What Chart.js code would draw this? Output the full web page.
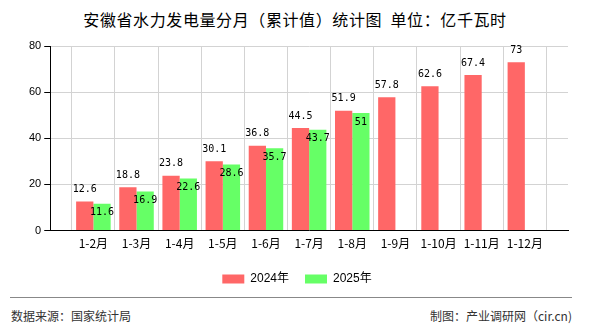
<!DOCTYPE html>
<html>
<head>
<meta charset="utf-8">
<script src="https://cdn.jsdelivr.net/npm/chart.js@4/dist/chart.umd.min.js"></script>
<style>
  body { margin: 0; background: #fff; font-family: "Noto Sans CJK SC", sans-serif; }
  #wrap { position: relative; width: 590px; height: 330px; overflow: hidden; }
  #title { position: absolute; top: 7px; left: 0; width: 590px; text-align: center; font-size: 16px; letter-spacing: 0.6px; color: #000; white-space: pre; }
  #box { position: absolute; top: 0; left: 0; width: 590px; height: 295px; }
  #line { position: absolute; top: 297px; left: 10px; width: 562px; border-top: 1px solid #888; }
  .foot { position: absolute; top: 307px; font-size: 12px; color: #333; }
</style>
</head>
<body>
<div id="wrap">
  <div id="title">安徽省水力发电量分月（累计值）统计图  单位：亿千瓦时</div>
  <div id="box"><canvas id="myChart"></canvas></div>
  <div id="line"></div>
  <div class="foot" style="left:11px">数据来源：国家统计局</div>
  <div class="foot" style="right:18px">制图：产业调研网（cir.cn)</div>
</div>

<script>
// months (cumulative)
let months = ['1-2月', '1-3月', '1-4月', '1-5月', '1-6月', '1-7月', '1-8月', '1-9月', '1-10月', '1-11月', '1-12月'];
let values2024 = [12.6, 18.8, 23.8, 30.1, 36.8, 44.5, 51.9, 57.8, 62.6, 67.4, 73];
let values2025 = [11.6, 16.9, 22.6, 28.6, 35.7, 43.7, 51, null, null, null, null];
let yTicks = [0, 20, 40, 60, 80];

// empty slot at each end so the axis edges sit half a step outside the bars
let labels = [''].concat(months, ['']);
let pad = function(arr) { return [null].concat(arr, [null]); };

// value labels above red bars, just inside green bars
const valueLabels = {
  id: 'valueLabels',
  afterDatasetsDraw(chart) {
    const ctx = chart.ctx;
    ctx.save();
    ctx.font = '10px "DejaVu Sans Mono"';
    ctx.fillStyle = '#000';
    ctx.textAlign = 'center';
    ctx.textBaseline = 'middle';
    chart.data.datasets.forEach(function(ds, i) {
      let meta = chart.getDatasetMeta(i);
      meta.data.forEach(function(bar, j) {
        let v = ds.data[j];
        if (v === null || v === undefined) return;
        let dy = i === 0 ? -12 : 9;
        ctx.fillText(String(v), bar.x, bar.y + dy);
      });
    });
    ctx.restore();
  }
};

const ctx = document.getElementById('myChart');

new Chart(ctx, {
  type: 'bar',
  data: {
    labels: labels,
    datasets: [
      { label: '2024年', data: pad(values2024), backgroundColor: '#ff6767' },
      { label: '2025年', data: pad(values2025), backgroundColor: '#66ff66' }
    ]
  },
  options: {
    responsive: true,
    maintainAspectRatio: false,
    animation: false,
    categoryPercentage: 0.8,
    barPercentage: 1,
    layout: { padding: { left: 26, right: 22, top: 46, bottom: 0 } },
    plugins: {
      title: { display: false },
      tooltip: { enabled: false },
      legend: {
        position: 'bottom',
        labels: {
          boxWidth: 22,
          boxHeight: 9,
          padding: 16,
          color: '#000',
          font: { size: 12, family: '"Liberation Sans", "Noto Sans CJK SC"' }
        }
      }
    },
    scales: {
      x: {
        offset: false,
        grid: { color: '#d3d3d3', drawTicks: false },
        border: { color: '#000' },
        ticks: {
          autoSkip: false,
          maxRotation: 0,
          padding: 6,
          color: '#000',
          font: { size: 12, family: '"Noto Sans CJK SC"' }
        }
      },
      y: {
        min: 0,
        max: 80,
        afterBuildTicks: function(axis) {
          axis.ticks = yTicks.map(function(v) { return { value: v }; });
        },
        grid: { color: '#d3d3d3', tickLength: 6, tickColor: '#000' },
        border: { color: '#000' },
        ticks: {
          padding: 3,
          color: '#000',
          font: { size: 11, family: '"Liberation Sans"' }
        }
      }
    }
  },
  plugins: [valueLabels]
});
</script>
</body>
</html>
